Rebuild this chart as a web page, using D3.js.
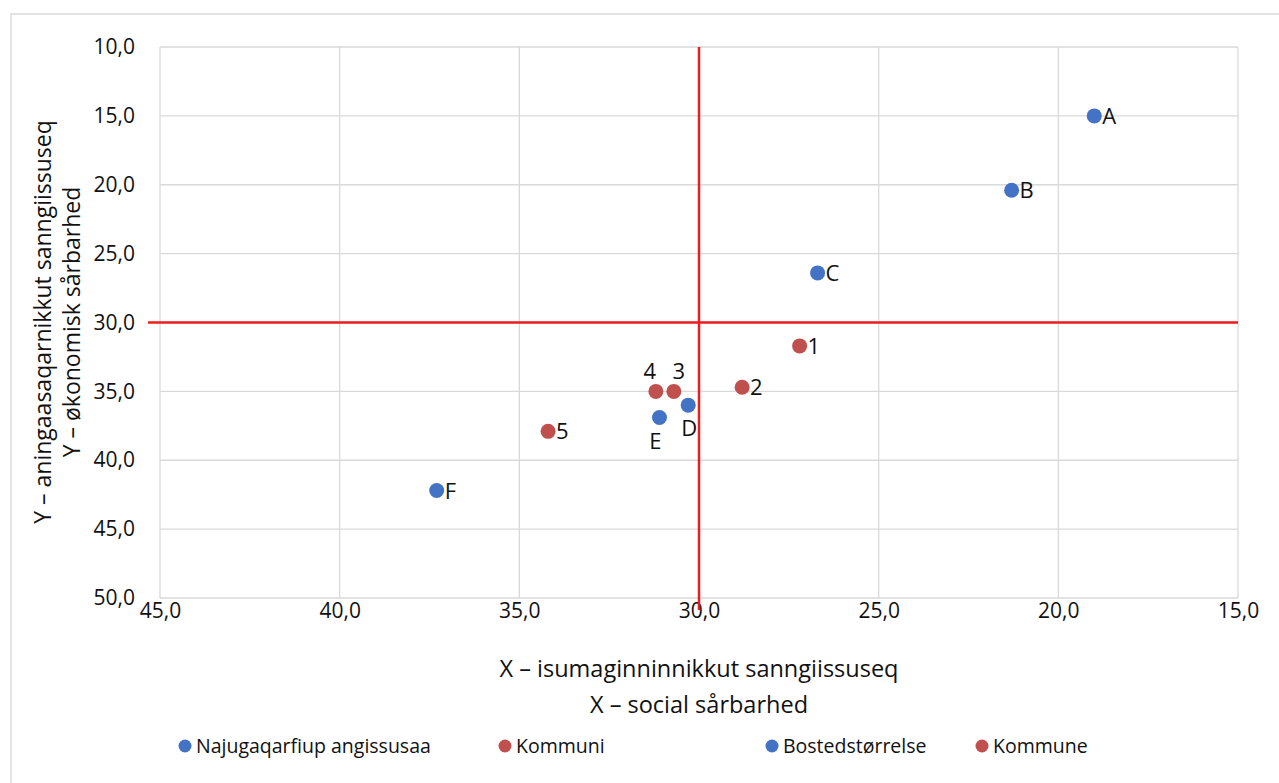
<!DOCTYPE html>
<html><head><meta charset="utf-8">
<script src="https://cdn.jsdelivr.net/npm/d3@7/dist/d3.min.js"></script>
<style>
body{margin:0;background:#fff;}
text{font-family:"Open Sans",Lato,sans-serif;fill:#111;}
</style></head>
<body><svg id="c" width="1279" height="783"></svg>
<script>
const labels = ["A","B","C","D","E","F","1","2","3","4","5"];
const series = ["blue","blue","blue","blue","blue","blue","red","red","red","red","red"];
const xValues = [19.0,21.3,26.7,30.3,31.1,37.3,27.2,28.8,30.7,31.2,34.2];
const yValues = [15.0,20.4,26.4,36.0,36.9,42.2,31.7,34.7,35.0,35.0,37.9];
const labelPos = ["right","right","right","belowright","below","right","right","right","above","above","right"];
const xTicks = [45,40,35,30,25,20,15];
const yTicks = [10,15,20,25,30,35,40,45,50];
const refX = 30, refY = 30;
const legendItems = ["Najugaqarfiup angissusaa","Kommuni","Bostedstørrelse","Kommune"];
const legendColors = ["blue","red","blue","red"];
const colors = {blue:"#4472c4", red:"#c0504d"};

const svg = d3.select("#c");
const fmt = d => d.toFixed(1).replace(".", ",");
// outer frame
svg.append("rect").attr("x",11).attr("y",14).attr("width",1290).attr("height",800)
  .attr("fill","none").attr("stroke","#e3e3e3").attr("stroke-width",2);

const x = d3.scaleLinear().domain([45,15]).range([160,1238]);
const y = d3.scaleLinear().domain([10,50]).range([47,598]);

// grid
svg.append("g").selectAll("line").data(yTicks).join("line")
  .attr("x1",160).attr("x2",1238).attr("y1",d=>y(d)).attr("y2",d=>y(d))
  .attr("stroke","#d9d9d9").attr("stroke-width",1.3);
svg.append("g").selectAll("line").data(xTicks).join("line")
  .attr("y1",47).attr("y2",598).attr("x1",d=>x(d)).attr("x2",d=>x(d))
  .attr("stroke","#d9d9d9").attr("stroke-width",1.3);

// axes (labels only)
const xAxis = d3.axisBottom(x).tickValues(xTicks).tickFormat(fmt).tickSize(0).tickPadding(5);
const gx = svg.append("g").attr("transform","translate(0,598)").call(xAxis);
gx.select(".domain").remove();
gx.selectAll("text").attr("font-size",21).attr("font-family","'Open Sans',sans-serif").attr("fill","#111");
const yAxis = d3.axisLeft(y).tickValues(yTicks).tickFormat(fmt).tickSize(0).tickPadding(25);
const gy = svg.append("g").attr("transform","translate(160,0)").call(yAxis);
gy.select(".domain").remove();
gy.selectAll("text").attr("font-size",21).attr("font-family","'Open Sans',sans-serif").attr("fill","#111");

// reference lines
svg.append("line").attr("x1",x(refX)).attr("x2",x(refX)).attr("y1",y(10)).attr("y2",y(50)+12)
  .attr("stroke","#ee1c1c").attr("stroke-width",2.5);
svg.append("line").attr("x1",x(45)-12).attr("x2",x(15)).attr("y1",y(refY)).attr("y2",y(refY))
  .attr("stroke","#ee1c1c").attr("stroke-width",2.5);

// points
const data = labels.map((l,i)=>({l, s:series[i], x:xValues[i], y:yValues[i], p:labelPos[i], i}));
svg.append("g").selectAll("circle").data(data).join("circle")
  .attr("cx",d=>x(d.x)).attr("cy",d=>y(d.y)).attr("r",7.5).attr("fill",d=>colors[d.s]);
svg.append("g").selectAll("text").data(data).join("text")
  .attr("font-size",22)
  .attr("x",d=>{const cx=x(d.x); if(d.p==="right") return cx+8; if(d.p==="above") return cx+(d.l==="3"?5:-6); if(d.p==="below") return cx-4; return cx+1;})
  .attr("y",d=>{const cy=y(d.y); if(d.p==="right") return cy+8; if(d.p==="above") return cy-12; return cy+31;})
  .attr("text-anchor",d=>(d.p==="right")?"start":"middle")
  .text(d=>d.l);

// axis titles
svg.append("text").attr("x",699).attr("y",677).attr("text-anchor","middle").attr("font-size",23.5)
  .text("X – isumaginninnikkut sanngiissuseq");
svg.append("text").attr("x",699).attr("y",713).attr("text-anchor","middle").attr("font-size",23.5)
  .text("X – social sårbarhed");
svg.append("text").attr("transform","translate(51,322) rotate(-90)").attr("text-anchor","middle").attr("font-size",23)
  .text("Y – aningaasaqarnikkut sanngiissuseq");
svg.append("text").attr("transform","translate(80,322) rotate(-90)").attr("text-anchor","middle").attr("font-size",23)
  .text("Y – økonomisk sårbarhed");

// legend
const legX = [185,505,772,982];
const lg = svg.append("g").selectAll("g").data(legendItems).join("g")
  .attr("transform",(d,i)=>`translate(${legX[i]},746)`);
lg.append("circle").attr("r",6.5).attr("fill",(d,i)=>colors[legendColors[i]]);
lg.append("text").attr("x",11).attr("y",7).attr("font-size",19.5).text(d=>d);
</script></body></html>
